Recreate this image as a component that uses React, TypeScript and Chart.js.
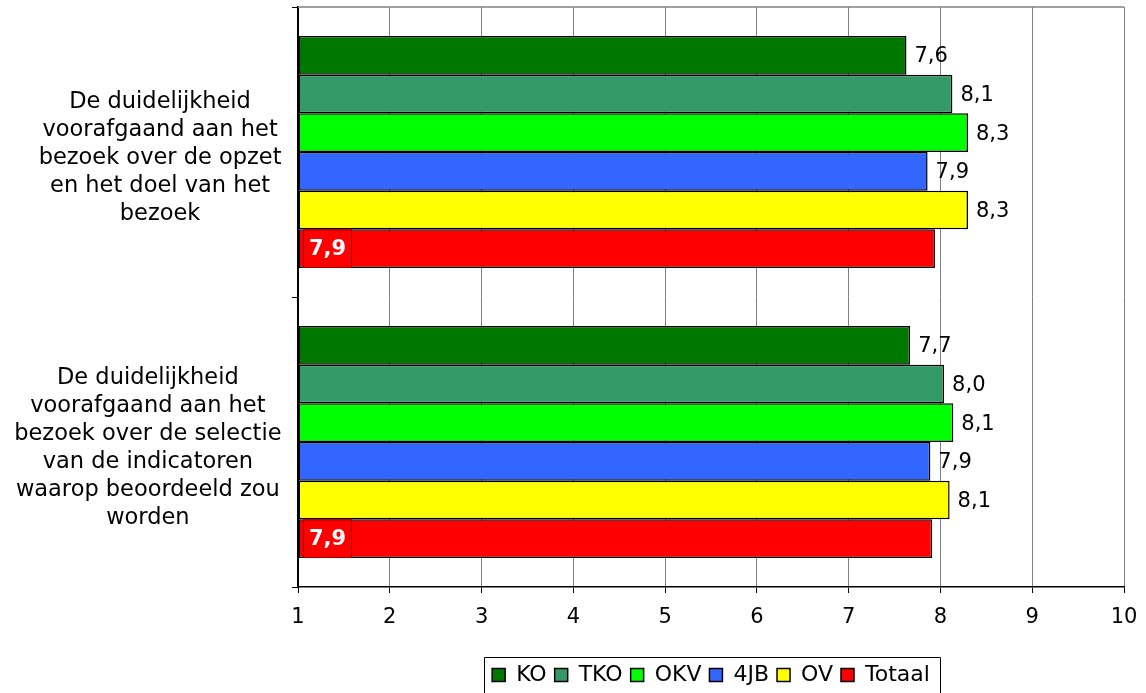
import React, { useEffect, useRef } from 'react';
import { Chart, registerables } from 'chart.js';

Chart.register(...registerables);

const FAMILY = '"DejaVu Sans", Verdana, sans-serif';

const categories: string[][] = [
  ['De duidelijkheid', 'voorafgaand aan het', 'bezoek over de opzet', 'en het doel van het', 'bezoek'],
  ['De duidelijkheid', 'voorafgaand aan het', 'bezoek over de selectie', 'van de indicatoren', 'waarop beoordeeld zou', 'worden'],
];

const seriesNames = ['KO', 'TKO', 'OKV', '4JB', 'OV', 'Totaal'];
const seriesColors = ['#007800', '#339966', '#00ff00', '#3366ff', '#ffff00', '#ff0000'];

const KO = [7.63, 7.67];
const TKO = [8.13, 8.04];
const OKV = [8.3, 8.14];
const JB4 = [7.86, 7.89];
const OV = [8.3, 8.1];
const Totaal = [7.94, 7.91];

const seriesValues = [KO, TKO, OKV, JB4, OV, Totaal];

const xMin = 1;
const xMax = 10;

const fmt = (v: number) => v.toFixed(1).replace('.', ',');

const CAT_FONT = 22.5;
const CAT_LINE = 28;

const categoryLabels = {
  id: 'categoryLabels',
  afterDraw(chart: any) {
    const scale = chart.scales.y;
    const ctx = chart.ctx;
    ctx.save();
    ctx.font = `${CAT_FONT}px ${FAMILY}`;
    ctx.fillStyle = '#000000';
    ctx.textAlign = 'center';
    ctx.textBaseline = 'alphabetic';
    const labels = chart.data.labels as string[][];
    labels.forEach((lines, i) => {
      const cy = scale.getPixelForTick(i);
      const widest = Math.max(...lines.map((l) => ctx.measureText(l).width));
      const cx = scale.right - 16.5 - widest / 2;
      const n = lines.length;
      lines.forEach((line, j) => {
        const by = cy + 12 + (j - (n - 1) / 2) * CAT_LINE;
        ctx.fillText(line, cx, by);
      });
    });
    ctx.restore();
  },
};

const valueLabels = {
  id: 'valueLabels',
  afterDatasetsDraw(chart: any) {
    const ctx = chart.ctx;
    ctx.save();
    chart.data.datasets.forEach((ds: any, di: number) => {
      const meta = chart.getDatasetMeta(di);
      meta.data.forEach((bar: any, i: number) => {
        const v = ds.data[i] as number;
        const txt = fmt(v);
        const { x, y, height } = bar.getProps(['x', 'y', 'height'], true);
        if (di === seriesNames.length - 1) {
          const left = chart.chartArea.left + 5;
          const w = 49;
          const top = y - height / 2;
          ctx.fillStyle = '#ff0000';
          ctx.fillRect(left, top, w, height);
          ctx.strokeStyle = '#990000';
          ctx.lineWidth = 1;
          ctx.strokeRect(left + 0.5, top + 0.5, w - 1, height - 1);
          ctx.fillStyle = '#ffffff';
          ctx.font = `bold 21px ${FAMILY}`;
          ctx.textAlign = 'center';
          ctx.textBaseline = 'middle';
          ctx.fillText(txt, left + w / 2, y + 1);
        } else {
          ctx.fillStyle = '#000000';
          ctx.font = `21px ${FAMILY}`;
          ctx.textAlign = 'left';
          ctx.textBaseline = 'middle';
          ctx.fillText(txt, x + 8, y + 1.5);
        }
      });
    });
    ctx.restore();
  },
};

const frame = {
  id: 'frame',
  beforeDatasetsDraw(chart: any) {
    const { ctx, chartArea } = chart;
    ctx.save();
    ctx.strokeStyle = '#808080';
    ctx.lineWidth = 1.5;
    ctx.beginPath();
    ctx.moveTo(chartArea.left, chartArea.top);
    ctx.lineTo(chartArea.right, chartArea.top);
    ctx.stroke();
    ctx.restore();
  },
};

const legendBorder = {
  id: 'legendBorder',
  afterDraw(chart: any) {
    const lg = chart.legend;
    if (!lg || !lg.legendHitBoxes || !lg.legendHitBoxes.length) return;
    const boxes = lg.legendHitBoxes;
    let minX = Infinity, maxX = -Infinity, minY = Infinity;
    boxes.forEach((b: any) => {
      minX = Math.min(minX, b.left);
      maxX = Math.max(maxX, b.left + b.width);
      minY = Math.min(minY, b.top);
    });
    const ctx = chart.ctx;
    ctx.save();
    ctx.strokeStyle = '#000000';
    ctx.lineWidth = 1;
    const l = Math.round(minX - 8) + 0.5;
    const r = Math.round(maxX + 10) + 0.5;
    const t = Math.round(minY - 7) + 0.5;
    ctx.beginPath();
    ctx.moveTo(l, chart.height + 5);
    ctx.lineTo(l, t);
    ctx.lineTo(r, t);
    ctx.lineTo(r, chart.height + 5);
    ctx.stroke();
    ctx.restore();
  },
};

export default function App() {
  const canvasRef = useRef<HTMLCanvasElement | null>(null);

  useEffect(() => {
    if (!canvasRef.current) return;
    const chart = new Chart(canvasRef.current, {
      type: 'bar',
      data: {
        labels: categories as any,
        datasets: seriesNames.map((name, i) => ({
          label: name,
          data: seriesValues[i],
          backgroundColor: seriesColors[i],
          borderColor: '#000000',
          borderWidth: 1.5,
          borderSkipped: false,
          base: xMin,
          categoryPercentage: 0.8,
          barPercentage: 1.0,
        })),
      },
      options: {
        indexAxis: 'y',
        animation: false,
        responsive: true,
        maintainAspectRatio: false,
        layout: { padding: { top: 7, right: 22, left: 0, bottom: 0 } },
        plugins: {
          tooltip: { enabled: false },
          legend: {
            position: 'bottom',
            fullSize: false,
            labels: {
              boxWidth: 13,
              boxHeight: 13,
              padding: 8,
              color: '#000000',
              font: { size: 22, family: FAMILY },
            },
          },
        },
        scales: {
          x: {
            type: 'linear',
            min: xMin,
            max: xMax,
            afterFit(s: any) {
              s.height = 69;
              s.paddingLeft = 0;
              s.paddingRight = 0;
            },
            ticks: {
              stepSize: 1,
              color: '#000000',
              padding: 12,
              font: { size: 21, family: FAMILY },
            },
            grid: {
              color: '#808080',
              lineWidth: 1,
              tickColor: '#000000',
              tickLength: 6,
            },
            border: { color: '#000000', width: 1.5 },
          },
          y: {
            type: 'category',
            afterFit(s: any) {
              s.width = 298;
              s.paddingTop = 0;
              s.paddingBottom = 0;
            },
            ticks: {
              display: false,
            },
            grid: {
              drawOnChartArea: false,
              offset: true,
              tickColor: '#000000',
              tickLength: 6,
            },
            border: { color: '#000000', width: 2 },
          },
        },
      },
      plugins: [frame, valueLabels, categoryLabels, legendBorder],
    } as any);
    return () => chart.destroy();
  }, []);

  return (
    <div style={{ position: 'fixed', left: 0, top: 0, width: 1146, height: 696, background: '#ffffff' }}>
      <canvas ref={canvasRef} />
    </div>
  );
}
